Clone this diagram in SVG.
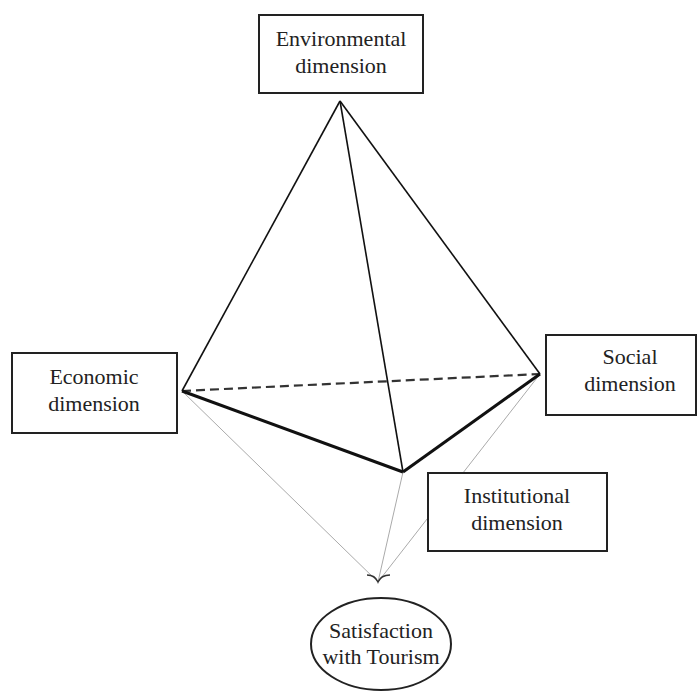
<svg xmlns="http://www.w3.org/2000/svg" width="699" height="695" viewBox="0 0 699 695">
<style>
.box{fill:#fff;stroke:#222;stroke-width:2}
.t{font-family:'Liberation Serif','Times New Roman','DejaVu Serif',serif;font-size:22px;fill:#222;text-anchor:middle}
.thin{stroke:#111;stroke-width:1.6;fill:none}
.thick{stroke:#111;stroke-width:3;fill:none}
.dash{stroke:#333;stroke-width:2.2;stroke-dasharray:9,5;fill:none}
.grey{stroke:#aaa;stroke-width:1;fill:none}
</style>
<rect width="699" height="695" fill="#fff"/>
<g id="connectors">
<line class="grey" x1="182" y1="391" x2="378" y2="582"/>
<line class="grey" x1="403" y1="472" x2="378" y2="582"/>
<line class="grey" x1="540" y1="374" x2="378" y2="582"/>
<path d="M367,575 Q375,575 378,582 Q381,575 390,575" fill="none" stroke="#333" stroke-width="1.5"/>
<line class="dash" x1="182" y1="391" x2="540" y2="374"/>
<line class="thin" x1="340" y1="101" x2="182" y2="391"/>
<line class="thin" x1="340" y1="101" x2="540" y2="374"/>
<line class="thin" x1="340" y1="101" x2="403" y2="472"/>
<line class="thick" x1="182" y1="391" x2="403" y2="472"/>
<line class="thick" x1="403" y1="472" x2="540" y2="374"/>
</g>
<g id="environmental">
<rect class="box" x="259" y="15" width="164" height="78"/>
<text class="t" x="341" y="46">Environmental</text>
<text class="t" x="341" y="73">dimension</text>
</g>
<g id="economic">
<rect class="box" x="12" y="353" width="165" height="80"/>
<text class="t" x="94" y="384">Economic</text>
<text class="t" x="94" y="411">dimension</text>
</g>
<g id="social">
<rect class="box" x="546" y="335" width="150" height="80"/>
<text class="t" x="630" y="364">Social</text>
<text class="t" x="630" y="391">dimension</text>
</g>
<g id="institutional">
<rect class="box" x="428" y="473" width="179" height="78"/>
<text class="t" x="517" y="503">Institutional</text>
<text class="t" x="517" y="530">dimension</text>
</g>
<g id="satisfaction">
<ellipse class="box" cx="381" cy="644" rx="70" ry="46"/>
<text class="t" x="381" y="638">Satisfaction</text>
<text class="t" x="381" y="664">with Tourism</text>
</g>
</svg>
